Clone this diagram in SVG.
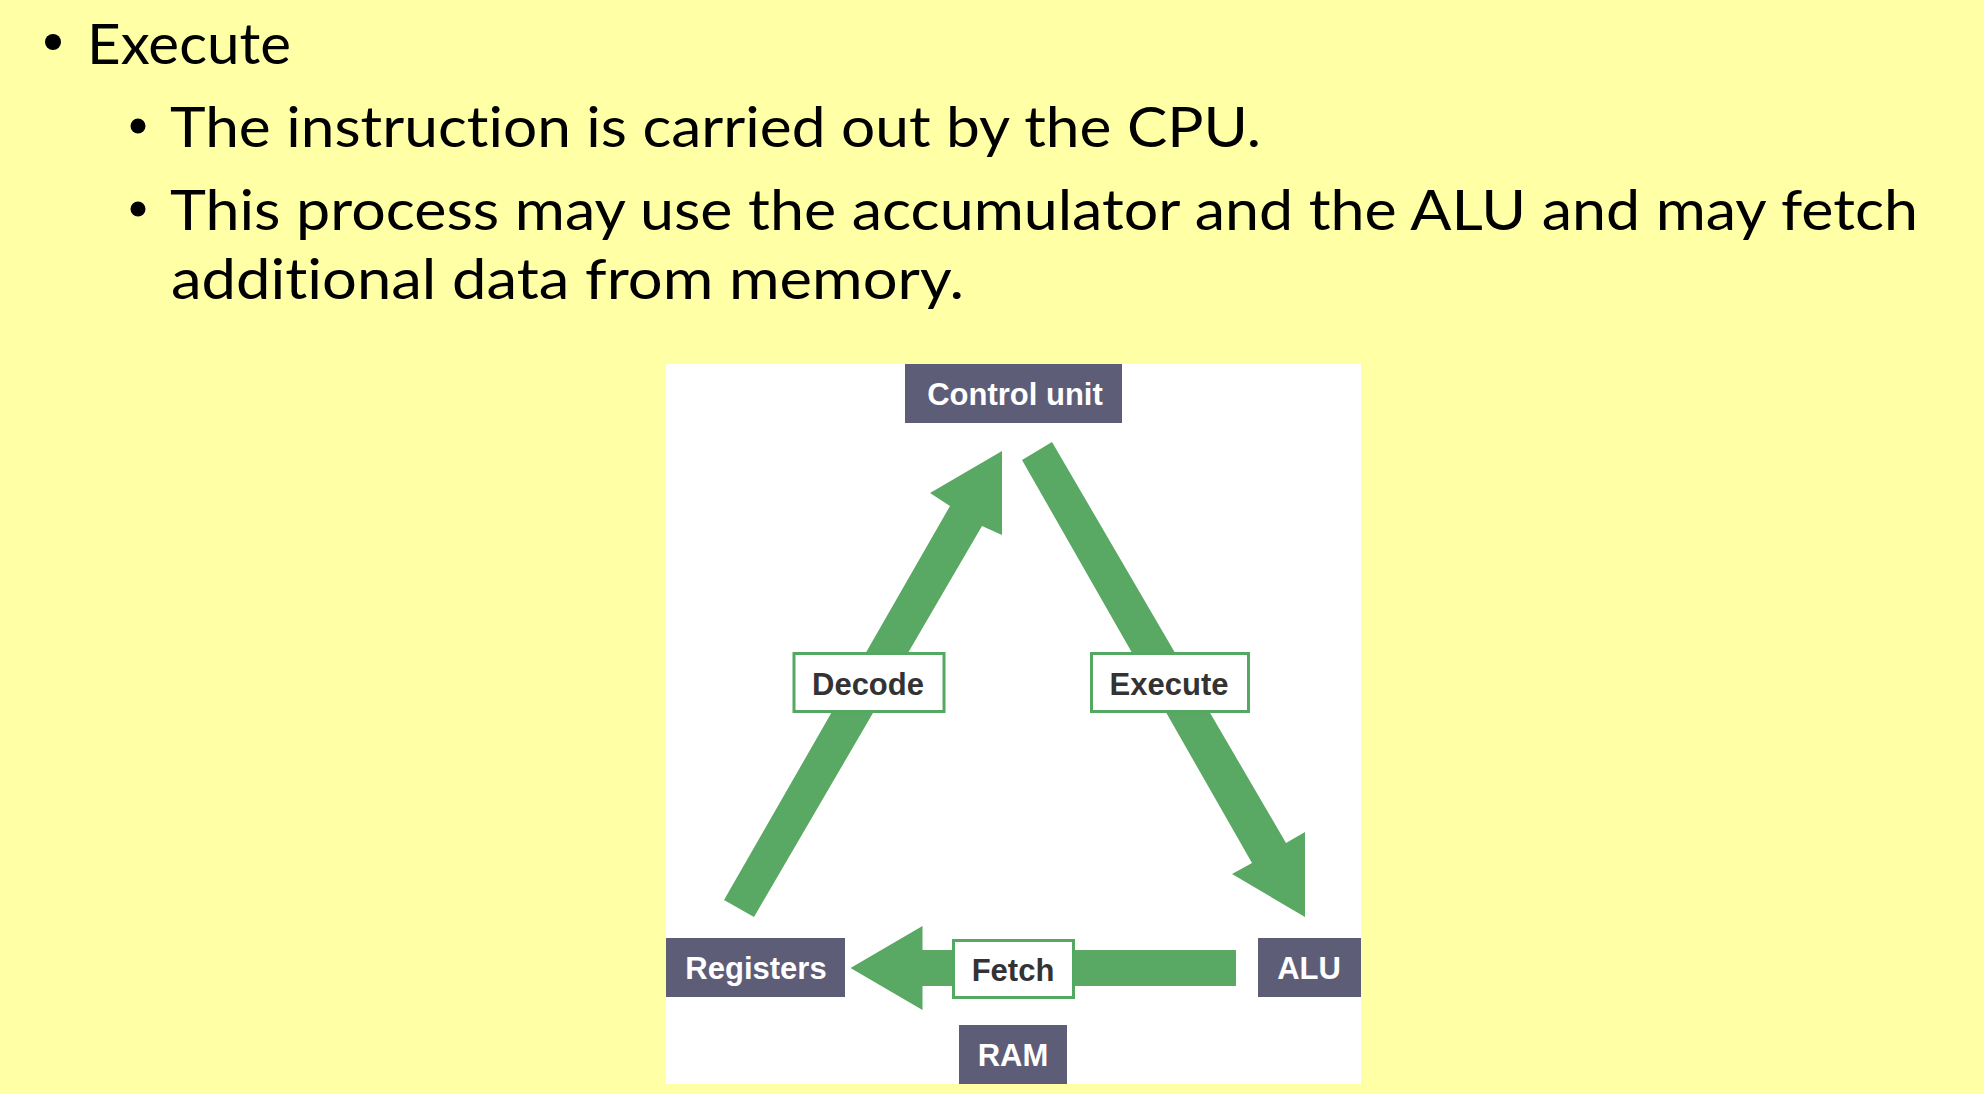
<svg xmlns="http://www.w3.org/2000/svg" width="1984" height="1094" viewBox="0 0 1984 1094">
<style>
.body{font-family:Lato,"Open Sans","Liberation Sans",sans-serif;font-size:57px;fill:#000;font-variant-ligatures:none;font-feature-settings:"liga" 0,"clig" 0}
.dark rect{fill:#5e5d78}
.dark text{font-family:"Liberation Sans",Arial,sans-serif;font-weight:bold;font-size:31px;fill:#fff;text-anchor:middle}
.lbl rect{fill:#fff;stroke:#55a862;stroke-width:3}
.lbl text{font-family:"Liberation Sans",Arial,sans-serif;font-weight:bold;font-size:31px;fill:#333;text-anchor:middle}
.arrow{fill:#59a863}
</style>
<rect x="0" y="0" width="1984" height="1094" fill="#ffffa6"/>
<g id="text">
<circle cx="53" cy="42" r="8" fill="#000"/>
<text class="body" x="87" y="64" textLength="204" lengthAdjust="spacingAndGlyphs">Execute</text>
<circle cx="138" cy="126" r="7.5" fill="#000"/>
<text class="body" x="170" y="147" textLength="1091" lengthAdjust="spacingAndGlyphs">The instruction is carried out by the CPU.</text>
<circle cx="138" cy="209" r="7.5" fill="#000"/>
<text class="body" x="170" y="230" textLength="1748" lengthAdjust="spacingAndGlyphs">This process may use the accumulator and the ALU and may fetch</text>
<text class="body" x="171" y="299" textLength="793" lengthAdjust="spacingAndGlyphs">additional data from memory.</text>
</g>
<rect id="panel" x="666" y="364" width="695" height="720" fill="#fff"/>
<g id="connectors">
<polygon class="arrow" points="724,900 950,506 930,493 1002,451 1002,535 982,526 754,917"/>
<polygon class="arrow" points="1052,442 1022,460 1252,863 1232,874 1305,917 1305,832 1286,843"/>
<polygon class="arrow" points="1236,950 922.5,950 922.5,926 850.5,968 922.5,1010 922.5,986 1236,986"/>
</g>
<g id="control-unit" class="dark"><rect x="905" y="364" width="217" height="59"/><text x="1015" y="405">Control unit</text></g>
<g id="registers" class="dark"><rect x="666" y="938" width="179" height="59"/><text x="756" y="979">Registers</text></g>
<g id="alu" class="dark"><rect x="1258" y="938" width="103" height="59"/><text x="1309" y="979">ALU</text></g>
<g id="ram" class="dark"><rect x="959" y="1025" width="108" height="59"/><text x="1013" y="1066">RAM</text></g>
<g id="decode" class="lbl"><rect x="794" y="653.5" width="150" height="58"/><text x="868" y="695">Decode</text></g>
<g id="execute" class="lbl"><rect x="1091.5" y="653.5" width="157" height="58"/><text x="1169" y="695">Execute</text></g>
<g id="fetch" class="lbl"><rect x="953.5" y="940.5" width="120" height="57"/><text x="1013" y="981">Fetch</text></g>
</svg>
